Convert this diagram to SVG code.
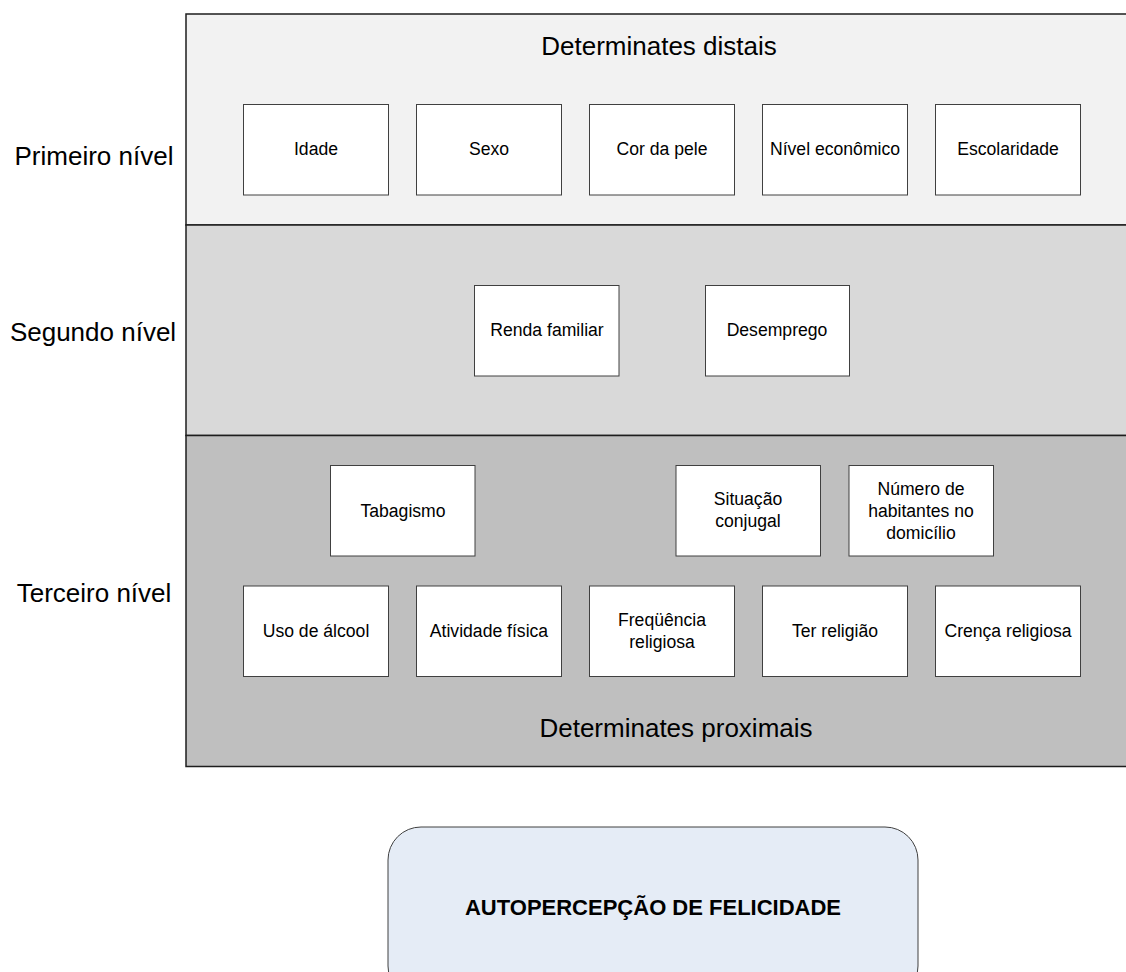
<svg xmlns="http://www.w3.org/2000/svg" width="1126" height="972" viewBox="0 0 1126 972">
<style>
.band{stroke:#1e1e1e;stroke-width:1.5}
.box{fill:#ffffff;stroke:#404040;stroke-width:1}
.t{font-family:"Liberation Sans",Arial,sans-serif;fill:#000;text-anchor:middle}
.bt{font-size:17.6px}
.lvl{font-size:26px}
.hd{font-size:26px}
.main{font-size:22px;font-weight:bold}
</style>
<rect width="1126" height="972" fill="#ffffff"/>
<g id="level1">
<rect class="band" x="186" y="14" width="942" height="211" fill="#f2f2f2"/>
<text class="t hd" x="659" y="55">Determinates distais</text>
</g>
<g id="level2">
<rect class="band" x="186" y="225" width="942" height="210.5" fill="#d9d9d9"/>
</g>
<g id="level3">
<rect class="band" x="186" y="435.5" width="942" height="331" fill="#bfbfbf"/>
<text class="t hd" x="676" y="737">Determinates proximais</text>
</g>
<g id="labels">
<text class="t lvl" x="94" y="165">Primeiro nível</text>
<text class="t lvl" x="93" y="341">Segundo nível</text>
<text class="t lvl" x="94" y="602">Terceiro nível</text>
</g>
<g id="n-idade"><rect class="box" x="243.5" y="104.5" width="145" height="90.5"/><text class="t bt" x="316" y="155">Idade</text></g>
<g id="n-sexo"><rect class="box" x="416.5" y="104.5" width="145" height="90.5"/><text class="t bt" x="489" y="155">Sexo</text></g>
<g id="n-cor"><rect class="box" x="589.5" y="104.5" width="145" height="90.5"/><text class="t bt" x="662" y="155">Cor da pele</text></g>
<g id="n-nivel"><rect class="box" x="762.5" y="104.5" width="145" height="90.5"/><text class="t bt" x="835" y="155">Nível econômico</text></g>
<g id="n-escolaridade"><rect class="box" x="935.5" y="104.5" width="145" height="90.5"/><text class="t bt" x="1008" y="155">Escolaridade</text></g>
<g id="n-renda"><rect class="box" x="474.5" y="285.5" width="144.5" height="90.5"/><text class="t bt" x="547" y="336">Renda familiar</text></g>
<g id="n-desemprego"><rect class="box" x="705.5" y="285.5" width="144" height="90.5"/><text class="t bt" x="777" y="336">Desemprego</text></g>
<g id="n-tabagismo"><rect class="box" x="330.5" y="465.5" width="144.5" height="90.5"/><text class="t bt" x="403" y="516.5">Tabagismo</text></g>
<g id="n-situacao"><rect class="box" x="676" y="465.5" width="144.5" height="90.5"/><text class="t bt" x="748" y="505">Situação</text><text class="t bt" x="748" y="527">conjugal</text></g>
<g id="n-numero"><rect class="box" x="849" y="465.5" width="144.5" height="90.5"/><text class="t bt" x="921" y="494.5">Número de</text><text class="t bt" x="921" y="516.5">habitantes no</text><text class="t bt" x="921" y="538.5">domicílio</text></g>
<g id="n-alcool"><rect class="box" x="243.5" y="586" width="145" height="90.5"/><text class="t bt" x="316" y="637">Uso de álcool</text></g>
<g id="n-atividade"><rect class="box" x="416.5" y="586" width="145" height="90.5"/><text class="t bt" x="489" y="637">Atividade física</text></g>
<g id="n-frequencia"><rect class="box" x="589.5" y="586" width="145" height="90.5"/><text class="t bt" x="662" y="626">Freqüência</text><text class="t bt" x="662" y="648">religiosa</text></g>
<g id="n-ter"><rect class="box" x="762.5" y="586" width="145" height="90.5"/><text class="t bt" x="835" y="637">Ter religião</text></g>
<g id="n-crenca"><rect class="box" x="935.5" y="586" width="145" height="90.5"/><text class="t bt" x="1008" y="637">Crença religiosa</text></g>
<g id="n-felicidade"><rect x="388" y="827" width="530" height="172" rx="33" ry="33" fill="#e5ecf6" stroke="#404040" stroke-width="1"/><text class="t main" x="653" y="915">AUTOPERCEPÇÃO DE FELICIDADE</text></g>
<g id="connectors"></g>
</svg>
